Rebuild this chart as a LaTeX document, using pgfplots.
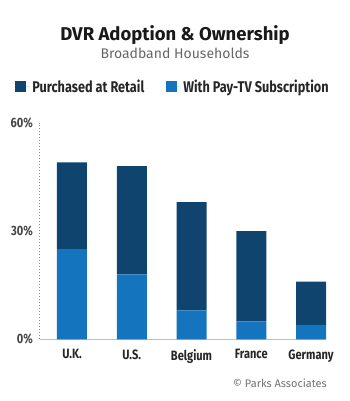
\documentclass[border=0pt]{standalone}
\usepackage{fontspec}
\setmainfont{Fira Sans}
\newfontfamily\cb{Fira Sans}[FakeStretch=0.82]
\usepackage{pgfplots}
\pgfplotsset{compat=1.18}
\definecolor{darkbar}{RGB}{14,68,110}
\definecolor{lightbar}{RGB}{21,116,190}
\definecolor{ticktxt}{RGB}{70,70,70}
\begin{document}
\begin{tikzpicture}
\useasboundingbox (-40pt,-61.7pt) rectangle (310pt,339.3pt);
\begin{axis}[
  at={(0pt,0pt)}, anchor=south west,
  scale only axis, width=286pt, height=216.6pt,
  ybar stacked, bar width=30pt,
  xmin=-0.535, xmax=4.25, ymin=0, ymax=60,
  xtick={0,1,2,3,4},
  xticklabels={U.K.,U.S.,Belgium,France,Germany},
  ytick={0,30,60},
  yticklabel={\pgfmathprintnumber{\tick}\%},
  /pgf/number format/assume math mode=true,
  axis x line*=bottom, axis y line*=left,
  x axis line style={-, draw=black!25, line width=1pt},
  y axis line style={-, draw=black!45, line width=1pt, dotted},
  major tick length=0pt,
  tick style={draw=none},
  ticklabel style={font=\cb\bfseries\fontsize{13.5}{14}\selectfont, text=ticktxt},
  xticklabel style={inner sep=0pt, yshift=-10pt, text=black!85},
  yticklabel style={inner sep=0pt, xshift=-7pt},
  clip=false,
  reverse legend,
  legend columns=2,
  legend style={draw=none, fill=none, at={(0.465,1.165)}, anchor=center,
    font=\cb\bfseries\fontsize{15.5}{16}\selectfont, text=black!85,
    /tikz/every even column/.append style={column sep=20pt}},
  legend image code/.code={\fill[#1] (0pt,-5.5pt) rectangle (11pt,5.5pt); \path (0pt,0pt) -- (15pt,0pt);},
]
\addplot[fill=lightbar, draw=none] coordinates {(0,25) (1,18) (2,8) (3,5) (4,4)};
\addlegendentry{With Pay-TV Subscription}
\addplot[fill=darkbar, draw=none] coordinates {(0,24) (1,30) (2,30) (3,25) (4,12)};
\addlegendentry{Purchased at Retail}
\end{axis}
\node[font=\bfseries\fontsize{18.5}{20}\selectfont, text=black!90] at (135pt,304.3pt) {DVR Adoption \& Ownership};
\node[font=\fontsize{14}{16}\selectfont, text=black!60] at (135pt,286.3pt) {Broadband Households};
\node[font=\fontsize{11}{12}\selectfont, text=black!55, anchor=east, inner sep=0pt] at (287pt,-43.7pt) {\textcopyright{} Parks Associates};
\end{tikzpicture}
\end{document}
